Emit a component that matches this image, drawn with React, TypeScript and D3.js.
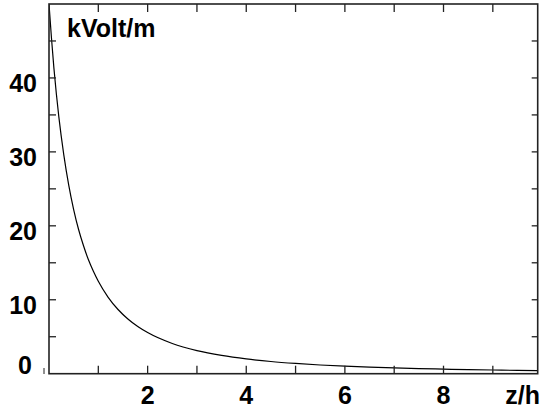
import React from "react";
import * as d3 from "d3";

const zValues = [0, 0.05, 0.1, 0.15, 0.2, 0.3, 0.4, 0.5, 0.6, 0.7, 0.8, 0.9, 1.0, 1.2, 1.4, 1.6, 1.8, 2.0, 2.5, 3, 3.5, 4, 4.5, 5, 5.5, 6, 6.5, 7, 7.5, 8, 8.5, 9, 9.5, 9.9];
const fieldValues = [50, 45.4, 41.3, 37.8, 34.7, 29.6, 25.5, 22.2, 19.5, 17.3, 15.4, 13.85, 12.5, 10.33, 8.68, 7.4, 6.38, 5.56, 4.08, 3.12, 2.47, 2.0, 1.65, 1.39, 1.18, 1.02, 0.89, 0.78, 0.69, 0.62, 0.55, 0.5, 0.45, 0.42];
const xTicks = [1, 2, 3, 4, 5, 6, 7, 8, 9];
const xLabels = [2, 4, 6, 8];
const yTicks = [5, 10, 15, 20, 25, 30, 35, 40, 45];
const yLabels = [0, 10, 20, 30, 40];
const yUnit = "kVolt/m";
const xUnit = "z/h";

export default function App() {
  const W = 541, H = 411;
  const left = 49, right = 537.7, top = 4, bottom = 373.7;
  const x = d3.scaleLinear().domain([0, 9.91]).range([left, right]);
  const y = d3.scaleLinear().domain([0, 50]).range([bottom, top]);
  const data = zValues.map((z, i) => [z, fieldValues[i]] as [number, number]);
  const line = d3.line<[number, number]>().x(d => x(d[0])).y(d => y(d[1])).curve(d3.curveMonotoneX);
  const font = "'Liberation Sans', Arial, sans-serif";
  const fs = 25;
  return (
    <svg width={W} height={H} style={{ position: "absolute", left: 0, top: 0, background: "#fff" }}>
      <defs>
        <clipPath id="plot">
          <rect x={left} y={top} width={right - left} height={bottom - top} />
        </clipPath>
      </defs>
      <path d={line(data) || ""} fill="none" stroke="#000" strokeWidth={1.2} clipPath="url(#plot)" />
      <rect x={left} y={top} width={right - left} height={bottom - top} fill="none" stroke="#222" strokeWidth={1.6} />
      {xTicks.map(t => (
        <g key={"xt" + t}>
          <line x1={x(t)} x2={x(t)} y1={bottom} y2={bottom - 8} stroke="#222" strokeWidth={1.3} />
          <line x1={x(t)} x2={x(t)} y1={top} y2={top + 8} stroke="#222" strokeWidth={1.3} />
        </g>
      ))}
      {yTicks.map(t => (
        <g key={"yt" + t}>
          <line x1={left} x2={left + 7} y1={y(t)} y2={y(t)} stroke="#222" strokeWidth={1.3} />
          <line x1={right} x2={right - 6} y1={y(t)} y2={y(t)} stroke="#222" strokeWidth={1.3} />
        </g>
      ))}
      <line x1={44} x2={44} y1={368} y2={374} stroke="#222" strokeWidth={1} />
      {xLabels.map(t => (
        <text key={"xl" + t} x={x(t)} y={404} textAnchor="middle" fontFamily={font} fontWeight="bold" fontSize={fs} fill="#000">{t}</text>
      ))}
      <text x={540} y={404} textAnchor="end" fontFamily={font} fontWeight="bold" fontSize={fs} fill="#000">{xUnit}</text>
      {yLabels.map(t => (
        <text key={"yl" + t} x={t === 0 ? 32 : 37} y={t === 0 ? 374 : y(t) + 14.5} textAnchor="end" fontFamily={font} fontWeight="bold" fontSize={fs} fill="#000">{t}</text>
      ))}
      <text x={67} y={37} fontFamily={font} fontWeight="bold" fontSize={fs} fill="#000">{yUnit}</text>
    </svg>
  );
}
